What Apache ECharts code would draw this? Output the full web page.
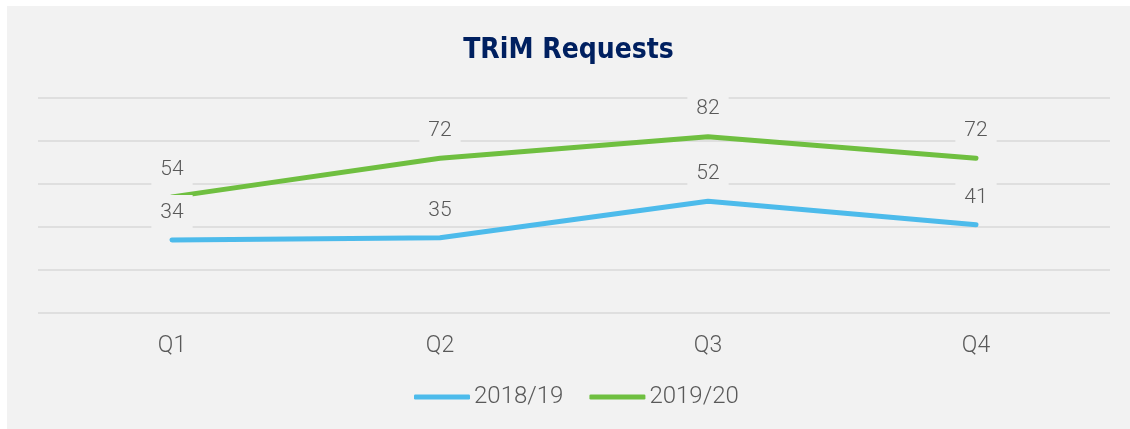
<!DOCTYPE html>
<html>
<head>
<meta charset="utf-8">
<script src="https://cdn.jsdelivr.net/npm/echarts@6/dist/echarts.min.js"></script>
<style>
  html, body { margin: 0; padding: 0; background: #fff; }
  #main { position: absolute; left: 7px; top: 6px; width: 1123px; height: 423px; background: #f2f2f2; }
</style>
</head>
<body>
<div id="main"></div>
<script>
var quarters = ['Q1', 'Q2', 'Q3', 'Q4'];
var requests1819 = [34, 35, 52, 41];
var requests1920 = [54, 72, 82, 72];

var chart = echarts.init(document.getElementById('main'));

// labels sit on a box the colour of the background, so they cut the gridlines
var labelStyle = {
	show: true,
	position: 'top',
	distance: 12,
	fontFamily: 'Roboto',
	fontWeight: 300,
	fontSize: 21,
	color: '#595959',
	backgroundColor: '#f2f2f2',
	padding: [7, 9, 5, 9]
};

var option = {
	backgroundColor: '#f2f2f2',
	title: {
		text: 'TRiM Requests',
		left: 'center',
		top: 26,
		textStyle: {
			fontFamily: 'DejaVu Sans Condensed, Roboto, sans-serif',
			fontWeight: 'bold',
			fontSize: 28,
			color: '#002060'
		}
	},
	legend: {
		bottom: 15,
		left: 402,
		itemWidth: 56,
		itemHeight: 5,
		itemGap: 26,
		icon: 'roundRect',
		textStyle: {
			fontFamily: 'Roboto',
			fontWeight: 300,
			fontSize: 24,
			color: '#595959',
			padding: [0, 0, 0, -1]
		},
		data: ['2018/19', '2019/20']
	},
	grid: {
		left: 31,
		right: 20,
		top: 92,
		bottom: 116
	},
	xAxis: {
		type: 'category',
		data: quarters,
		boundaryGap: true,
		axisLine: { show: false },
		axisTick: { show: false },
		axisLabel: {
			margin: 22,
			fontFamily: 'Roboto',
			fontWeight: 300,
			fontSize: 23,
			color: '#595959'
		}
	},
	yAxis: {
		type: 'value',
		min: 0,
		max: 100,
		interval: 20,
		axisLabel: { show: false },
		axisLine: { show: false },
		axisTick: { show: false },
		splitLine: { lineStyle: { color: '#d9d9d9', width: 1.5 } }
	},
	series: [
		{
			name: '2018/19',
			type: 'line',
			data: requests1819,
			symbol: 'circle',
			symbolSize: 0,
			itemStyle: { color: '#4dbbeb' },
			lineStyle: { width: 5, color: '#4dbbeb', cap: 'round' },
			label: labelStyle
		},
		{
			name: '2019/20',
			type: 'line',
			data: requests1920,
			symbol: 'circle',
			symbolSize: 0,
			itemStyle: { color: '#6fbf40' },
			lineStyle: { width: 5, color: '#6fbf40', cap: 'round' },
			label: labelStyle
		}
	]
};

chart.setOption(option);
</script>
</body>
</html>
